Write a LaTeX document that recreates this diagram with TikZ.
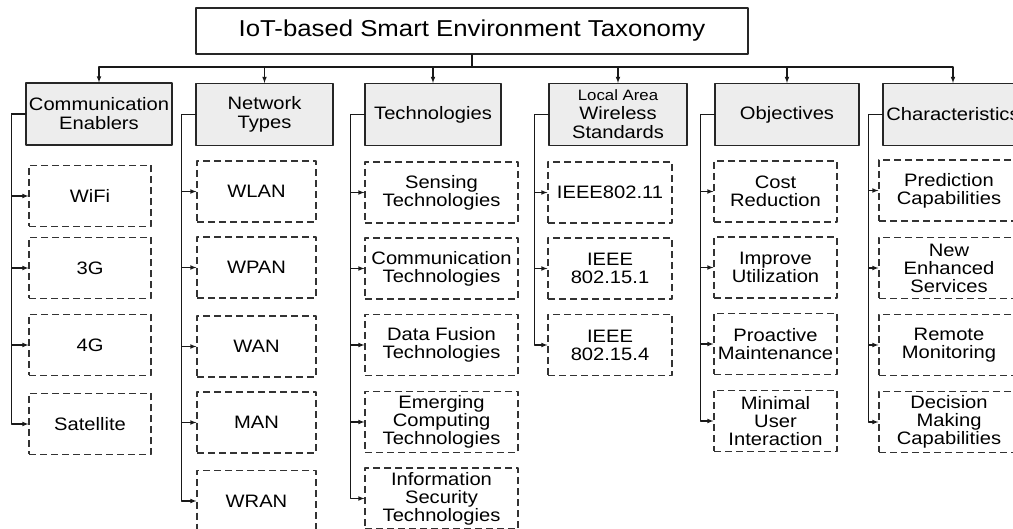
\documentclass[tikz,border=0pt]{standalone}
\usepackage{fontspec}
\setmainfont{Liberation Sans}[FakeStretch=1.12]
\tikzset{
  rootbox/.style={draw=black!85,line width=1.1pt,minimum width=552pt,minimum height=46pt,inner sep=0pt,
    font=\fontsize{23}{25}\selectfont},
  catbox/.style={draw=black!85,fill=black!7,line width=1.1pt,minimum height=62pt,inner sep=0pt,align=center,
    font=\fontsize{18}{19}\selectfont},
  leafbox/.style={draw=black!80,line width=1.1pt,dash pattern=on 7pt off 4pt,line cap=butt,minimum height=61pt,
    inner sep=0pt,align=center,font=\fontsize{18}{18}\selectfont},
  link/.style={draw=black!90,line width=1.1pt}
}
\begin{document}
\begin{tikzpicture}[x=1pt,y=-1pt,line cap=round,line join=round,>=latex]
  \useasboundingbox (0,0) rectangle (1013,529);
  \clip (0,0) rectangle (1013,529);
  % root and categories
  \node[rootbox] (root) at (472,31) {IoT-based Smart Environment Taxonomy};
  \node[catbox,minimum width=146pt] (ce) at (99,114) {Communication\\Enablers};
  \node[catbox,minimum width=137pt] (nt) at (264.5,114.5) {Network\\Types};
  \node[catbox,minimum width=136pt] (te) at (433,114.5) {Technologies};
  \node[catbox,minimum width=138pt] (ls) at (618,114.5) {{\fontsize{15}{16}\selectfont Local Area}\\Wireless\\Standards};
  \node[catbox,minimum width=144pt] (ob) at (787,114.5) {Objectives};
  \node[catbox,minimum width=140pt,text width=136pt] (ch) at (953,114.5) {Characteristics};
  \coordinate (bus) at (472,67);
  \draw[link] (root.south) -- (bus);
  \foreach \c in {ce,nt,te,ls,ob,ch}
    \draw[link,->] (bus) -| (\c.north);
  % leaves
  \foreach \y/\t [count=\i] in {196/WiFi,268/3G,345/4G,424/Satellite}
    \node[leafbox,minimum width=122pt] (ce\i) at (90,\y) {\t};
  \foreach \y/\t [count=\i] in {191.5/WLAN,267.5/WPAN,346.5/WAN,422.5/MAN,501/WRAN}
    \node[leafbox,minimum width=119pt] (nt\i) at (256.5,\y) {\t};
  \foreach \y/\t [count=\i] in {192.5/Sensing\\Technologies,268.5/Communication\\Technologies,
      345/Data Fusion\\Technologies,422/Emerging\\Computing\\Technologies,
      498.5/Information\\Security\\Technologies}
    \node[leafbox,minimum width=153pt] (te\i) at (441.5,\y) {\t};
  \foreach \y/\t [count=\i] in {192.5/IEEE802.11,268.5/IEEE\\802.15.1,345/IEEE\\802.15.4}
    \node[leafbox,minimum width=124pt] (ls\i) at (610,\y) {\t};
  \foreach \y/\t [count=\i] in {191.5/Cost\\Reduction,267.5/Improve\\Utilization,
      344/Proactive\\Maintenance,421/Minimal\\User\\Interaction}
    \node[leafbox,minimum width=123pt] (ob\i) at (775.5,\y) {\t};
  \foreach \y/\t [count=\i] in {190.5/Prediction\\Capabilities,268/New\\Enhanced\\Services,
      345/Remote\\Monitoring,422/Decision\\Making\\Capabilities}
    \node[leafbox,minimum width=140pt] (ch\i) at (949,\y) {\t};
  % brackets
  \foreach \c/\n in {ce/4,nt/5,te/5,ls/3,ob/4,ch/4}
    \foreach \i in {1,...,\n}
      \draw[link,->] (\c.west) -- ++(-14,0) |- (\c\i.west);
\end{tikzpicture}
\end{document}
